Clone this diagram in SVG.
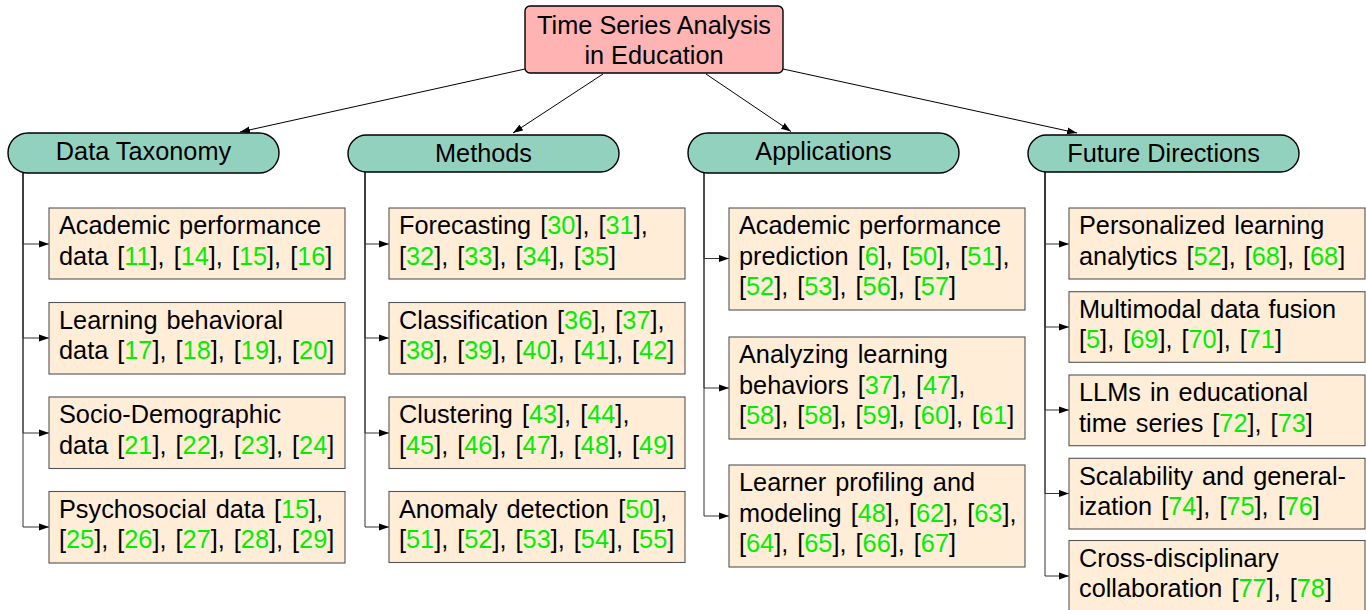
<svg xmlns="http://www.w3.org/2000/svg" width="1366" height="610" viewBox="0 0 1366 610">
<defs>
<style>
text{font-family:"Liberation Sans",Arial,Helvetica,sans-serif;font-size:25.3px;fill:#000}
.leafg text{word-spacing:2px}
.root{fill:#FFB3B3;stroke:#000;stroke-width:1.4}
.hdr{fill:#93D1BF;stroke:#000;stroke-width:1.4}
.leaf{fill:#FFEDD8;stroke:#555;stroke-width:1.1}
.c{fill:#00F000}
.mid{text-anchor:middle}
.top{fill:none;stroke:#000;stroke-width:1}
.br{fill:none;stroke:#333;stroke-width:1}
</style>
<marker id="ah" markerUnits="userSpaceOnUse" markerWidth="10" markerHeight="8" refX="10" refY="4" orient="auto" viewBox="0 0 10 8">
<path d="M0,0.5 L10,4 L0,7.5 z" fill="#000"/>
</marker>
</defs>
<rect width="1366" height="610" fill="#fff"/>

<g id="connectors">
<line class="top" x1="525" y1="69" x2="240" y2="132" marker-end="url(#ah)"/>
<line class="top" x1="603" y1="74" x2="513" y2="133" marker-end="url(#ah)"/>
<line class="top" x1="706" y1="74" x2="791" y2="131.5" marker-end="url(#ah)"/>
<line class="top" x1="783" y1="69" x2="1077" y2="133" marker-end="url(#ah)"/>

<path class="br" d="M23 173 V244 H49" marker-end="url(#ah)"/>
<path class="br" d="M23 173 V338 H49" marker-end="url(#ah)"/>
<path class="br" d="M23 173 V433 H49" marker-end="url(#ah)"/>
<path class="br" d="M23 173 V527 H49" marker-end="url(#ah)"/>

<path class="br" d="M365 172 V244 H389" marker-end="url(#ah)"/>
<path class="br" d="M365 172 V338 H389" marker-end="url(#ah)"/>
<path class="br" d="M365 172 V433 H389" marker-end="url(#ah)"/>
<path class="br" d="M365 172 V527 H389" marker-end="url(#ah)"/>

<path class="br" d="M704 173 V258.5 H729" marker-end="url(#ah)"/>
<path class="br" d="M704 173 V388 H729" marker-end="url(#ah)"/>
<path class="br" d="M704 173 V516 H729" marker-end="url(#ah)"/>

<path class="br" d="M1045 172 V244 H1069" marker-end="url(#ah)"/>
<path class="br" d="M1045 172 V327 H1069" marker-end="url(#ah)"/>
<path class="br" d="M1045 172 V410 H1069" marker-end="url(#ah)"/>
<path class="br" d="M1045 172 V493.5 H1069" marker-end="url(#ah)"/>
<path class="br" d="M1045 172 V576 H1069" marker-end="url(#ah)"/>
</g>

<g id="root">
<rect class="root" x="525" y="6" width="258" height="67" rx="5"/>
<text class="mid" x="654" y="34.3">Time Series Analysis</text>
<text class="mid" x="654" y="63.5">in Education</text>
</g>

<g id="h-data">
<rect class="hdr" x="8" y="133" width="271" height="40" rx="20"/>
<text class="mid" x="143.5" y="159.5">Data Taxonomy</text>
</g>
<g id="h-methods">
<rect class="hdr" x="348" y="135" width="271" height="37" rx="18.5"/>
<text class="mid" x="483.5" y="162">Methods</text>
</g>
<g id="h-apps">
<rect class="hdr" x="688" y="133" width="271" height="40" rx="20"/>
<text class="mid" x="823.5" y="159.5">Applications</text>
</g>
<g id="h-future">
<rect class="hdr" x="1028" y="135" width="271" height="37" rx="18.5"/>
<text class="mid" x="1163.5" y="162">Future Directions</text>
</g>

<!-- Column 1 -->
<g id="d1" class="leafg">
<rect class="leaf" x="49" y="208" width="296" height="71"/>
<text x="59" y="234.3">Academic performance</text>
<text x="59" y="264.8">data [<tspan class="c">11</tspan>], [<tspan class="c">14</tspan>], [<tspan class="c">15</tspan>], [<tspan class="c">16</tspan>]</text>
</g>
<g id="d2" class="leafg">
<rect class="leaf" x="49" y="302.5" width="296" height="71.5"/>
<text x="59" y="328.8">Learning behavioral</text>
<text x="59" y="359.3">data [<tspan class="c">17</tspan>], [<tspan class="c">18</tspan>], [<tspan class="c">19</tspan>], [<tspan class="c">20</tspan>]</text>
</g>
<g id="d3" class="leafg">
<rect class="leaf" x="49" y="397" width="296" height="71.5"/>
<text x="59" y="423.3">Socio-Demographic</text>
<text x="59" y="453.8">data [<tspan class="c">21</tspan>], [<tspan class="c">22</tspan>], [<tspan class="c">23</tspan>], [<tspan class="c">24</tspan>]</text>
</g>
<g id="d4" class="leafg">
<rect class="leaf" x="49" y="491.5" width="296" height="71.5"/>
<text x="59" y="517.8">Psychosocial data [<tspan class="c">15</tspan>],</text>
<text x="59" y="548.3">[<tspan class="c">25</tspan>], [<tspan class="c">26</tspan>], [<tspan class="c">27</tspan>], [<tspan class="c">28</tspan>], [<tspan class="c">29</tspan>]</text>
</g>

<!-- Column 2 -->
<g id="m1" class="leafg">
<rect class="leaf" x="389" y="208" width="296" height="71"/>
<text x="399" y="234.3">Forecasting [<tspan class="c">30</tspan>], [<tspan class="c">31</tspan>],</text>
<text x="399" y="264.8">[<tspan class="c">32</tspan>], [<tspan class="c">33</tspan>], [<tspan class="c">34</tspan>], [<tspan class="c">35</tspan>]</text>
</g>
<g id="m2" class="leafg">
<rect class="leaf" x="389" y="302.5" width="296" height="71.5"/>
<text x="399" y="328.8">Classification [<tspan class="c">36</tspan>], [<tspan class="c">37</tspan>],</text>
<text x="399" y="359.3">[<tspan class="c">38</tspan>], [<tspan class="c">39</tspan>], [<tspan class="c">40</tspan>], [<tspan class="c">41</tspan>], [<tspan class="c">42</tspan>]</text>
</g>
<g id="m3" class="leafg">
<rect class="leaf" x="389" y="397" width="296" height="71.5"/>
<text x="399" y="423.3">Clustering [<tspan class="c">43</tspan>], [<tspan class="c">44</tspan>],</text>
<text x="399" y="453.8">[<tspan class="c">45</tspan>], [<tspan class="c">46</tspan>], [<tspan class="c">47</tspan>], [<tspan class="c">48</tspan>], [<tspan class="c">49</tspan>]</text>
</g>
<g id="m4" class="leafg">
<rect class="leaf" x="389" y="491.5" width="296" height="71"/>
<text x="399" y="517.8">Anomaly detection [<tspan class="c">50</tspan>],</text>
<text x="399" y="548.3">[<tspan class="c">51</tspan>], [<tspan class="c">52</tspan>], [<tspan class="c">53</tspan>], [<tspan class="c">54</tspan>], [<tspan class="c">55</tspan>]</text>
</g>

<!-- Column 3 -->
<g id="a1" class="leafg">
<rect class="leaf" x="729" y="208" width="296" height="102"/>
<text x="739" y="234.3">Academic performance</text>
<text x="739" y="264.8">prediction [<tspan class="c">6</tspan>], [<tspan class="c">50</tspan>], [<tspan class="c">51</tspan>],</text>
<text x="739" y="295.3">[<tspan class="c">52</tspan>], [<tspan class="c">53</tspan>], [<tspan class="c">56</tspan>], [<tspan class="c">57</tspan>]</text>
</g>
<g id="a2" class="leafg">
<rect class="leaf" x="729" y="337" width="296" height="102"/>
<text x="739" y="363.3">Analyzing learning</text>
<text x="739" y="393.8">behaviors [<tspan class="c">37</tspan>], [<tspan class="c">47</tspan>],</text>
<text x="739" y="424.3">[<tspan class="c">58</tspan>], [<tspan class="c">58</tspan>], [<tspan class="c">59</tspan>], [<tspan class="c">60</tspan>], [<tspan class="c">61</tspan>]</text>
</g>
<g id="a3" class="leafg">
<rect class="leaf" x="729" y="465" width="296" height="102"/>
<text x="739" y="491.3">Learner profiling and</text>
<text x="739" y="521.8">modeling [<tspan class="c">48</tspan>], [<tspan class="c">62</tspan>], [<tspan class="c">63</tspan>],</text>
<text x="739" y="552.3">[<tspan class="c">64</tspan>], [<tspan class="c">65</tspan>], [<tspan class="c">66</tspan>], [<tspan class="c">67</tspan>]</text>
</g>

<!-- Column 4 -->
<g id="f1" class="leafg">
<rect class="leaf" x="1069" y="208" width="296" height="71"/>
<text x="1079" y="234.3">Personalized learning</text>
<text x="1079" y="264.8">analytics [<tspan class="c">52</tspan>], [<tspan class="c">68</tspan>], [<tspan class="c">68</tspan>]</text>
</g>
<g id="f2" class="leafg">
<rect class="leaf" x="1069" y="291.7" width="296" height="70.6"/>
<text x="1079" y="317.8">Multimodal data fusion</text>
<text x="1079" y="348.3">[<tspan class="c">5</tspan>], [<tspan class="c">69</tspan>], [<tspan class="c">70</tspan>], [<tspan class="c">71</tspan>]</text>
</g>
<g id="f3" class="leafg">
<rect class="leaf" x="1069" y="375" width="296" height="70.7"/>
<text x="1079" y="401.2">LLMs in educational</text>
<text x="1079" y="431.7">time series [<tspan class="c">72</tspan>], [<tspan class="c">73</tspan>]</text>
</g>
<g id="f4" class="leafg">
<rect class="leaf" x="1069" y="458.3" width="296" height="70.7"/>
<text x="1079" y="484.5">Scalability and general-</text>
<text x="1079" y="515">ization [<tspan class="c">74</tspan>], [<tspan class="c">75</tspan>], [<tspan class="c">76</tspan>]</text>
</g>
<g id="f5" class="leafg">
<rect class="leaf" x="1069" y="540.5" width="296" height="71"/>
<text x="1079" y="566.7">Cross-disciplinary</text>
<text x="1079" y="597.2">collaboration [<tspan class="c">77</tspan>], [<tspan class="c">78</tspan>]</text>
</g>
</svg>
